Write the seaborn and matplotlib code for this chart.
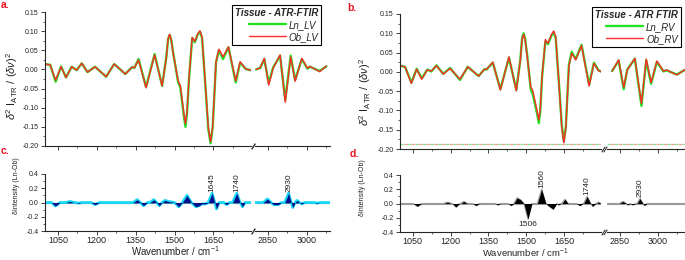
import numpy as np
import pandas as pd
import matplotlib
matplotlib.use('Agg')
import matplotlib.pyplot as plt
import seaborn as sns
from matplotlib.ticker import MultipleLocator, FormatStrFormatter

sns.set_theme(style='ticks')
plt.rcParams['font.family'] = ['Liberation Sans', 'DejaVu Sans']
plt.rcParams['mathtext.fontset'] = 'custom'
plt.rcParams['mathtext.rm'] = 'Liberation Sans'
plt.rcParams['mathtext.it'] = 'Liberation Sans:italic'
plt.rcParams['axes.linewidth'] = 0.8
plt.rcParams['xtick.major.size'] = 3
plt.rcParams['ytick.major.size'] = 3
plt.rcParams['xtick.minor.size'] = 1.5
plt.rcParams['ytick.minor.size'] = 1.5
plt.rcParams['xtick.major.width'] = 0.6
plt.rcParams['ytick.major.width'] = 0.6
plt.rcParams['xtick.minor.width'] = 0.5
plt.rcParams['ytick.minor.width'] = 0.5

#Panel a - LV second derivative spectra (left part 1000-1800, right part 2800-3100)
lv_wn_left = [1000, 1020, 1041, 1062, 1081, 1103, 1122, 1142, 1164, 1193, 1236, 1267, 1310, 1336, 1345,
              1361, 1390, 1423, 1452, 1468, 1475, 1481, 1487, 1495, 1514, 1522, 1536, 1542, 1548, 1556,
              1568, 1578, 1590, 1598, 1606, 1620, 1630, 1639, 1647, 1660, 1671,
              1687, 1708, 1736, 1753, 1775, 1794]
lv_ob_left = [0.014, 0.012, -0.028, 0.007, -0.021, 0.007, -0.002, 0.016, -0.007, 0.007, -0.019, 0.014,
              -0.012, 0.006, 0.004, 0.025, -0.048, 0.038, -0.043, 0.030, 0.080, 0.092, 0.078, 0.040,
              -0.030, -0.042, -0.115, -0.142, -0.110, -0.020, 0.084, 0.073, 0.094, 0.101, 0.085, -0.050,
              -0.150, -0.189, -0.150, 0.020, 0.053, 0.033, 0.059, -0.030, 0.020, 0.001, -0.002]
lv_ln_left = [0.014, 0.012, -0.032, 0.008, -0.021, 0.007, -0.002, 0.016, -0.007, 0.007, -0.019, 0.014,
              -0.012, 0.006, 0.004, 0.027, -0.046, 0.040, -0.043, 0.031, 0.079, 0.090, 0.078, 0.042,
              -0.034, -0.046, -0.122, -0.150, -0.115, -0.022, 0.082, 0.071, 0.092, 0.098, 0.083, -0.052,
              -0.155, -0.193, -0.152, 0.018, 0.050, 0.027, 0.058, -0.034, 0.018, 0.001, -0.002]
lv_wn_right = [2804, 2820, 2836, 2853, 2870, 2897, 2917, 2938, 2955, 2981, 3003, 3012, 3050, 3076]
lv_ob_right = [0.000, 0.004, 0.029, -0.041, 0.003, 0.038, -0.086, 0.033, -0.031, 0.029, 0.003, 0.008, -0.006, 0.009]
lv_ln_right = [0.000, 0.004, 0.027, -0.036, 0.005, 0.036, -0.080, 0.036, -0.028, 0.027, 0.002, 0.007, -0.004, 0.008]

#Panel b - RV second derivative spectra
rv_wn_left = [1000, 1020, 1045, 1066, 1086, 1108, 1124, 1144, 1171, 1198, 1237, 1268, 1311, 1334, 1342,
              1367, 1397, 1431, 1460, 1476, 1483, 1489, 1495, 1503, 1517, 1525, 1542, 1549, 1555, 1562,
              1575, 1585, 1600, 1608, 1616, 1630, 1640, 1648, 1656, 1668, 1679,
              1695, 1718, 1748, 1767, 1785, 1805]
rv_ob_left = [0.016, 0.013, -0.030, 0.007, -0.019, 0.005, 0.002, 0.016, -0.006, 0.009, -0.019, 0.013,
              -0.011, 0.007, 0.006, 0.025, -0.047, 0.039, -0.049, 0.030, 0.085, 0.097, 0.082, 0.040,
              -0.039, -0.048, -0.100, -0.125, -0.095, -0.010, 0.084, 0.074, 0.098, 0.106, 0.090, -0.045,
              -0.145, -0.184, -0.145, 0.015, 0.048, 0.031, 0.068, -0.037, 0.022, 0.003, -0.002]
rv_ln_left = [0.016, 0.013, -0.028, 0.008, -0.017, 0.006, 0.001, 0.017, -0.005, 0.010, -0.021, 0.013,
              -0.011, 0.007, 0.006, 0.024, -0.045, 0.037, -0.047, 0.032, 0.088, 0.100, 0.085, 0.044,
              -0.045, -0.058, -0.108, -0.133, -0.100, -0.012, 0.079, 0.072, 0.095, 0.102, 0.088, -0.042,
              -0.140, -0.180, -0.142, 0.018, 0.052, 0.033, 0.070, -0.033, 0.024, 0.004, -0.002]
rv_wn_right = [2820, 2846, 2866, 2880, 2910, 2936, 2955, 2974, 2997, 3023, 3035, 3076, 3115]
rv_ob_right = [0.002, 0.031, -0.040, 0.005, 0.035, -0.082, 0.033, -0.028, 0.028, 0.002, 0.005, -0.008, 0.009]
rv_ln_right = [0.002, 0.029, -0.045, 0.006, 0.034, -0.088, 0.030, -0.031, 0.026, 0.001, 0.004, -0.007, 0.008]
rv_dashed_level = -0.188

#Panel c - LV difference (Ln-Ob)
lv_diff_wn_left = [1000, 1025, 1040, 1058, 1080, 1096, 1112, 1118, 1129, 1142, 1178, 1193, 1210,
                   1340, 1356, 1368, 1380, 1395, 1405, 1420, 1431, 1441, 1452, 1463, 1475, 1500,
                   1516, 1530, 1548, 1565, 1582, 1595, 1605, 1620, 1630, 1645, 1655, 1662, 1672,
                   1690, 1700, 1712, 1724, 1740, 1753, 1762, 1772, 1800]
lv_diff_left = [0, 0, -0.05, 0, 0, 0.015, 0, 0, -0.01, 0, 0, -0.03, 0,
                0, 0.04, 0, -0.045, 0, 0, 0.04, 0, -0.045, 0, 0.03, 0.015, 0,
                -0.06, 0, 0.10, 0, -0.06, -0.045, -0.02, -0.02, 0, 0.13, 0, -0.09, 0,
                0, -0.03, 0, 0, 0.13, 0, -0.06, 0, 0]
lv_diff_wn_right = [2800, 2832, 2848, 2862, 2872, 2890, 2902, 2915, 2930, 2940, 2946, 2955,
                    2963, 2972, 2980, 2992, 3030, 3040, 3050, 3090]
lv_diff_right = [0, 0, 0.05, 0, -0.03, -0.03, 0, 0, 0.13, 0, -0.07, 0,
                 0.03, 0, -0.02, 0, 0, -0.01, 0, 0]
lv_peaks = [(1645, 0.13), (1740, 0.13), (2930, 0.13)]

#Panel d - RV difference (Ln-Ob)
rv_diff_wn_left = [1000, 1052, 1069, 1086, 1172, 1188, 1203, 1207, 1221, 1236, 1240, 1252, 1266,
                   1288, 1301, 1314, 1376, 1387, 1398, 1428, 1440, 1450, 1463, 1478, 1490, 1506, 1522,
                   1543, 1560, 1577, 1590, 1606, 1620, 1628, 1636, 1640, 1652, 1665, 1698, 1712,
                   1724, 1726, 1740, 1754, 1762, 1775, 1785, 1795, 1800]
rv_diff_left = [0, 0, -0.04, 0, 0, 0.02, 0, 0, -0.05, 0, 0, 0.03, 0,
                0, -0.03, 0, 0, -0.02, 0, 0, -0.03, 0, 0.08, 0.05, 0, -0.22, 0,
                0, 0.20, 0, -0.04, -0.08, 0, -0.02, 0, 0, 0.06, 0, 0, -0.03,
                0, 0, 0.10, 0, -0.04, 0, 0.02, 0, 0]
rv_diff_wn_right = [2800, 2848, 2863, 2876, 2882, 2892, 2900, 2915, 2918, 2930, 2942, 2948, 2957, 3110]
rv_diff_right = [0, 0, 0.03, 0, -0.02, 0, -0.02, 0, 0, 0.07, 0, -0.03, 0, 0]
rv_peaks_up = [(1560, 0.20), (1740, 0.10), (2930, 0.07)]
rv_peaks_down = [(1506, -0.22)]

green = '#22e022'
red = '#ff2a2a'

fig = plt.figure(figsize=(6.85, 2.6), dpi=100)


def px(l, t, w, h):
    return [l / 685, 1 - (t + h) / 260, w / 685, h / 260]


def style_pair(ax_l, ax_r, xr, ylim, ymaj, ymin, yfmt, show_x, ysize):
    for ax, lim in [(ax_l, (1000, 1795)), (ax_r, xr)]:
        ax.set_xlim(*lim)
        ax.set_ylim(*ylim)
        ax.spines['top'].set_visible(False)
        ax.spines['right'].set_visible(False)
        ax.xaxis.set_major_locator(MultipleLocator(150))
        ax.xaxis.set_minor_locator(MultipleLocator(75))
        ax.tick_params(axis='x', which='both', direction='out', labelbottom=show_x,
                       labelsize=6.5, pad=0.8, colors='#222222')
        ax.set_xlabel('')
        ax.set_ylabel('')
        ax.patch.set_alpha(0)
    ax_l.yaxis.set_major_locator(MultipleLocator(ymaj))
    ax_l.yaxis.set_minor_locator(MultipleLocator(ymin))
    ax_l.yaxis.set_major_formatter(FormatStrFormatter(yfmt))
    ax_l.tick_params(axis='y', which='both', direction='out', labelsize=ysize, pad=1.5, colors='#222222')
    ax_r.spines['left'].set_visible(False)
    ax_r.tick_params(axis='y', which='both', left=False, labelleft=False)
    # break marks on the x axis
    kw = dict(marker=[(-1, -1.6), (1, 1.6)], markersize=4, linestyle='none', color='#333333',
              mec='#333333', mew=0.8, clip_on=False)
    ax_l.plot([1.012], [0], transform=ax_l.transAxes, **kw)
    ax_r.plot([-0.03], [0], transform=ax_r.transAxes, **kw)


def draw_spectra(ax_l, ax_r, wl, ob_l, ln_l, wr, ob_r, ln_r, tag):
    for ax, w, ob, ln in [(ax_l, wl, ob_l, ln_l), (ax_r, wr, ob_r, ln_r)]:
        sns.lineplot(x=w, y=ln, ax=ax, color=green, lw=1.7, label='Ln_' + tag, estimator=None, sort=False)
        sns.lineplot(x=w, y=ob, ax=ax, color=red, lw=1.0, label='Ob_' + tag, estimator=None, sort=False)
        if ax.get_legend() is not None:
            ax.get_legend().remove()
    return ax_l.get_lines()[:2]


def draw_diff(ax_l, ax_r, wl, dl, wr, dr, fill, edge, lw, base):
    for ax, w, d in [(ax_l, wl, dl), (ax_r, wr, dr)]:
        ax.axhline(0, color=base, lw=0.8, zorder=1)
        sns.lineplot(x=w, y=d, ax=ax, color=edge, lw=lw, estimator=None, sort=False, zorder=2)
        ax.fill_between(w, 0, d, color=fill, lw=0, zorder=3)


# panel a
ax_a1 = fig.add_axes(px(45, 12, 206, 134))
ax_a2 = fig.add_axes(px(255, 12, 75, 134))
h_a = draw_spectra(ax_a1, ax_a2, lv_wn_left, lv_ob_left, lv_ln_left, lv_wn_right, lv_ob_right, lv_ln_right, 'LV')
style_pair(ax_a1, ax_a2, (2800, 3090), (-0.2, 0.15), 0.05, 0.025, '%.2f', False, 5)

# panel b
ax_b1 = fig.add_axes(px(400, 14, 201, 135))
ax_b2 = fig.add_axes(px(607, 14, 78, 135))
h_b = draw_spectra(ax_b1, ax_b2, rv_wn_left, rv_ob_left, rv_ln_left, rv_wn_right, rv_ob_right, rv_ln_right, 'RV')
for ax in [ax_b1, ax_b2]:
    ax.axhline(rv_dashed_level, color='#8fe88f', lw=0.9, ls=(0, (3, 3)))
    ax.axhline(rv_dashed_level, color='#f4a0a0', lw=0.9, ls=(3, (3, 3)))
style_pair(ax_b1, ax_b2, (2800, 3108), (-0.2, 0.15), 0.05, 0.025, '%.2f', False, 5)

# panel c
ax_c1 = fig.add_axes(px(45, 174, 206, 57))
ax_c2 = fig.add_axes(px(255, 174, 75, 57))
draw_diff(ax_c1, ax_c2, lv_diff_wn_left, lv_diff_left, lv_diff_wn_right, lv_diff_right,
          '#00108c', '#19d9f5', 2.0, '#4a7fa0')
style_pair(ax_c1, ax_c2, (2800, 3090), (-0.4, 0.4), 0.2, 0.1, '%.1f', True, 5)
for wn, v in lv_peaks:
    ax = ax_c1 if wn < 2000 else ax_c2
    ax.text(wn, v + 0.02, str(wn), rotation=90, ha='center', va='bottom', fontsize=6, color='#222222')

# panel d
ax_d1 = fig.add_axes(px(400, 175, 201, 57))
ax_d2 = fig.add_axes(px(607, 175, 78, 57))
draw_diff(ax_d1, ax_d2, rv_diff_wn_left, rv_diff_left, rv_diff_wn_right, rv_diff_right,
          'black', '#9a9a9a', 0.8, '#9a9a9a')
style_pair(ax_d1, ax_d2, (2800, 3108), (-0.4, 0.4), 0.2, 0.1, '%.1f', True, 5)
for wn, v in rv_peaks_up:
    ax = ax_d1 if wn < 2000 else ax_d2
    ax.text(wn, v + 0.02, str(wn), rotation=90, ha='center', va='bottom', fontsize=6, color='#222222')
for wn, v in rv_peaks_down:
    ax_d1.text(wn, v - 0.03, str(wn), ha='center', va='top', fontsize=6, color='#222222')

# legends
leg_kw = dict(loc='upper left', fancybox=False, framealpha=1, edgecolor='black', borderpad=0.3,
              labelspacing=0.2, handlelength=3.8, handletextpad=0.3, borderaxespad=0,
              prop={'style': 'italic', 'size': 7},
              title_fontproperties={'weight': 'bold', 'style': 'italic', 'size': 7})
lg = fig.legend(h_a, ['Ln_LV', 'Ob_LV'], title='Tissue - ATR-FTIR',
                bbox_to_anchor=(232 / 685, 1 - 5 / 260), **leg_kw)
lg.get_frame().set_linewidth(0.8)
lg._legend_box.align = 'right'
lg2 = fig.legend(h_b, ['Ln_RV', 'Ob_RV'], title='Tissue - ATR FTIR',
                 bbox_to_anchor=(592 / 685, 1 - 7 / 260), **leg_kw)
lg2.get_frame().set_linewidth(0.8)
lg2._legend_box.align = 'right'

# axis labels
ylab = r'$\delta^2\ \mathrm{I}_{\mathrm{ATR}}\ /\ (\delta\nu)^2$'
fig.text(12 / 685, 1 - 86 / 260, ylab, rotation=90, ha='center', va='center', fontsize=8, color='#222222')
fig.text(365 / 685, 1 - 92 / 260, ylab, rotation=90, ha='center', va='center', fontsize=8, color='#222222')
fig.text(17 / 685, 1 - 186 / 260, 'δIntensity (Ln-Ob)', rotation=90, ha='center', va='center',
         fontsize=5, color='#222222')
fig.text(362 / 685, 1 - 188 / 260, 'δIntensity (Ln-Ob)', rotation=90, ha='center', va='center',
         fontsize=5, color='#222222')
fig.text(175 / 685, 1 - 251 / 260, 'Wavenumber / cm$^{-1}$', ha='center', va='center', fontsize=7,
         color='#222222')
fig.text(525 / 685, 0.001, 'Wavenumber / cm$^{-1}$', ha='center', va='bottom', fontsize=6.8,
         color='#222222')

# panel letters
for s, x, y in [('a.', 1, 0), ('b.', 347, 3), ('c.', 1, 146), ('d.', 350, 149)]:
    fig.text(x / 685, 1 - y / 260, s, color='#e8141e', fontweight='bold', fontsize=7.5, ha='left', va='top')

fig.savefig('out.png', dpi=100)
